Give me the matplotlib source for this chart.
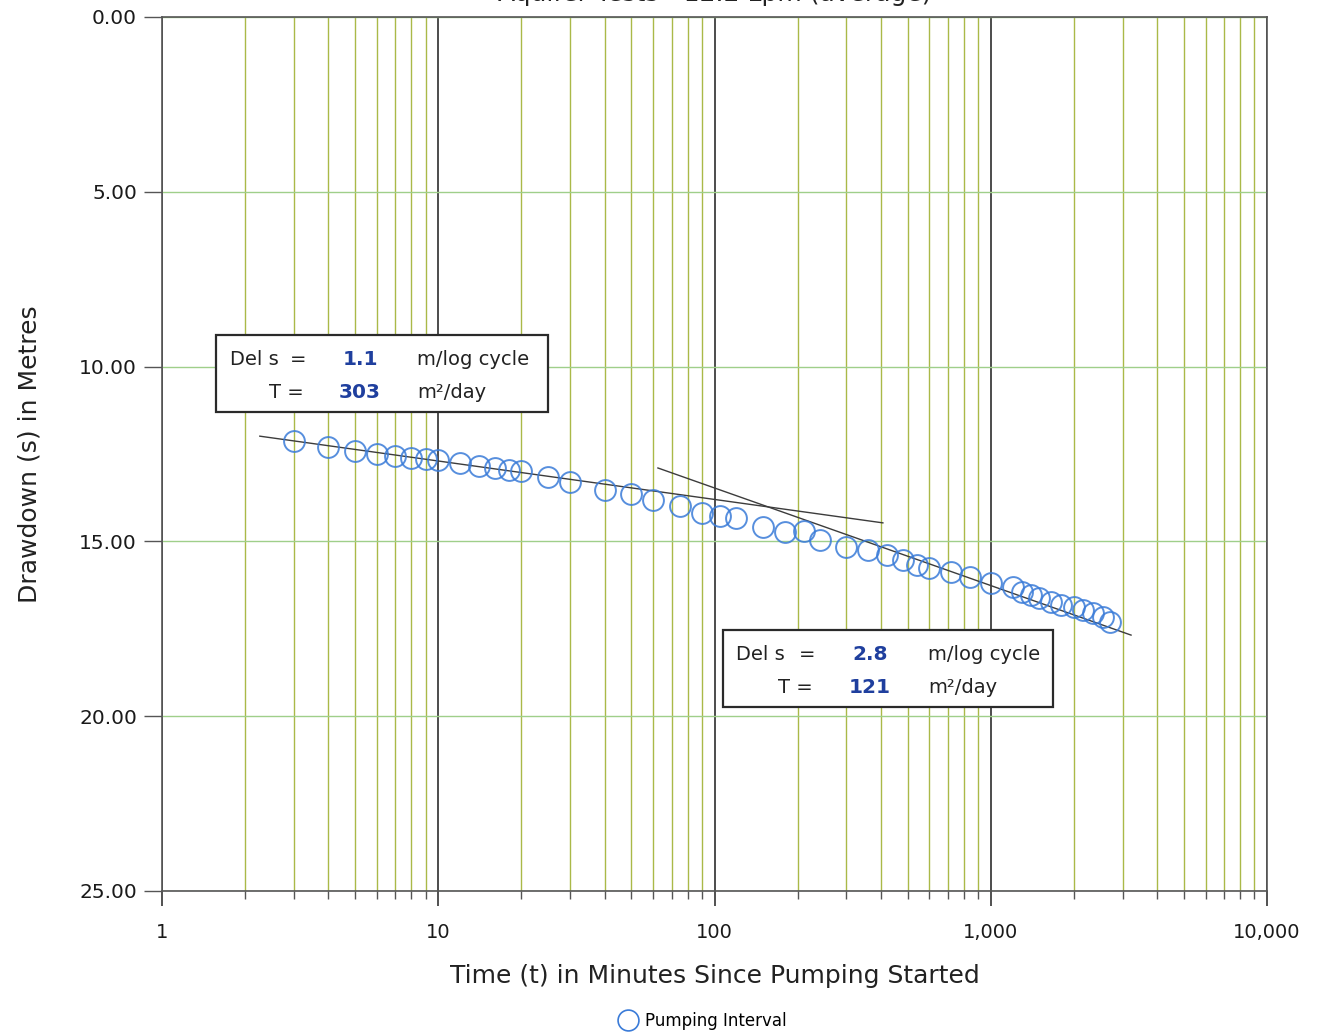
"""Cooper-Jacob drawdown plot (semi-log), recreated with matplotlib."""
import numpy as np
import matplotlib.pyplot as plt
from matplotlib.patches import Rectangle
from matplotlib.lines import Line2D
from matplotlib.ticker import FixedLocator, FuncFormatter

W, H = 1319, 1034

# --- data -------------------------------------------------------------------
time_min = [3, 4, 5, 6, 7, 8, 9, 10, 12, 14, 16, 18, 20, 25, 30, 40, 50,
            60, 75, 90, 105, 120, 150, 180, 210, 240, 300, 360, 420, 480, 540,
            600, 720, 840, 1000, 1200, 1300, 1400, 1500, 1650, 1800, 2000,
            2150, 2350, 2550, 2700]
drawdown_m = [12.13, 12.30, 12.41, 12.50, 12.56, 12.61, 12.64, 12.67, 12.76,
              12.84, 12.90, 12.96, 12.99, 13.16, 13.30, 13.53, 13.64,
              13.82, 13.99, 14.19, 14.27, 14.33, 14.59, 14.73, 14.70, 14.96,
              15.16, 15.25, 15.39, 15.53, 15.67, 15.76, 15.88, 16.02, 16.19,
              16.30, 16.45, 16.53, 16.62, 16.73, 16.82, 16.88, 16.96, 17.05,
              17.16, 17.30]

fit1_t = [2.26, 407]          # early-time straight line
fit1_s = [11.99, 14.47]
fit2_t = [62.4, 3220]         # late-time straight line
fit2_s = [12.90, 17.68]

box1 = {"dels": "1.1", "T": "303"}
box2 = {"dels": "2.8", "T": "121"}

x_major = [1, 10, 100, 1000, 10000]
y_major = [0, 5, 10, 15, 20, 25]

title = "Aquifer Tests - 12.2 Lpm (average)"

# --- figure -----------------------------------------------------------------
plt.rcParams["font.family"] = ["DejaVu Sans"]
fig = plt.figure(figsize=(W / 100, H / 100), dpi=100)
ax = fig.add_axes([162 / W, 1 - 891 / H, (1267 - 162) / W, (891 - 17) / H])


def fpx(x, y):
    return x / W, 1 - y / H


ax.set_xscale("log")
ax.set_xlim(1, 10000)
ax.set_ylim(25, 0)

minors = [m * d for d in (1, 10, 100, 1000) for m in range(2, 10)]
ax.xaxis.set_major_locator(FixedLocator(x_major))
ax.xaxis.set_minor_locator(FixedLocator(minors))
ax.xaxis.set_major_formatter(FuncFormatter(lambda v, p: f"{int(v):,}"))
ax.xaxis.set_minor_formatter(FuncFormatter(lambda v, p: ""))
ax.yaxis.set_major_locator(FixedLocator(y_major))
ax.yaxis.set_major_formatter(FuncFormatter(lambda v, p: f"{v:.2f}"))

ax.grid(True, which="major", axis="x", color="#2e2e2e", lw=1.2)
ax.grid(True, which="minor", axis="x", color="#aab948", lw=1.0)
ax.grid(True, which="major", axis="y", color="#9fcf8a", lw=1.0)
ax.set_axisbelow(True)

ax.tick_params(axis="x", which="major", length=11, width=1.2, color="#333",
               labelsize=14, pad=12, labelcolor="#1a1a1a")
ax.tick_params(axis="x", which="minor", length=6, width=1.0, color="#555")
ax.tick_params(axis="y", which="major", length=13, width=1.0, color="#555",
               labelsize=14.5, pad=5, labelcolor="#1a1a1a")
for sp in ax.spines.values():
    sp.set_color("#555555")
    sp.set_linewidth(1.2)

ax.plot(fit1_t, fit1_s, color="#3c3c3c", lw=1.0, zorder=3)
ax.plot(fit2_t, fit2_s, color="#3c3c3c", lw=1.0, zorder=3)
ax.plot(time_min, drawdown_m, ls="none", marker="o", ms=15, mfc="none",
        mec="#3a7bd8", mew=1.4, alpha=0.85, zorder=4)

ax.set_xlabel("Time (t) in Minutes Since Pumping Started", fontsize=18,
              labelpad=16, color="#222")
ax.set_ylabel("Drawdown (s) in Metres", fontsize=18, labelpad=27,
              color="#222")

# title sits partly above the top edge, as in the source image
fig.text(*fpx(715, 1), title, ha="center", va="baseline", fontsize=18,
         color="#222")


# --- slope / transmissivity boxes ------------------------------------------
def result_box(x0, y0, x1, y1, vals, cols):
    fig.patches.append(Rectangle(fpx(x0, y1), (x1 - x0) / W, (y1 - y0) / H,
                                 transform=fig.transFigure, fill=True,
                                 fc="white", ec="#2a2a2a", lw=1.6, zorder=5))
    r1 = y0 + (y1 - y0) * 0.32
    r2 = y0 + (y1 - y0) * 0.75
    kw = dict(fontsize=14, va="center", color="#222", zorder=6)
    nkw = dict(fontsize=14.5, va="center", ha="center", color="#1f3f9e",
               fontweight="bold", zorder=6)
    fig.text(*fpx(cols[0], r1), "Del s", ha="left", **kw)
    fig.text(*fpx(cols[1], r1), "=", ha="center", **kw)
    fig.text(*fpx(cols[2], r1), vals["dels"], **nkw)
    fig.text(*fpx(cols[3], r1), "m/log cycle", ha="left", **kw)
    fig.text(*fpx(cols[1] + 6, r2), "T =", ha="right", **kw)
    fig.text(*fpx(cols[2], r2), vals["T"], **nkw)
    fig.text(*fpx(cols[3], r2), "m²/day", ha="left", **kw)


result_box(216, 335, 548, 412, box1, [230, 298, 360, 417])
result_box(723, 630, 1053, 707, box2, [736, 807, 870, 928])

# --- legend -----------------------------------------------------------------
handle = Line2D([], [], ls="none", marker="o", ms=15, mfc="none",
                mec="#3a7bd8", mew=1.2)
fig.legend([handle], ["Pumping Interval"], loc="center",
           bbox_to_anchor=fpx(702, 1021), frameon=False, fontsize=12,
           handletextpad=0.4, handlelength=1.2)

fig.savefig("out.png", dpi=100)
